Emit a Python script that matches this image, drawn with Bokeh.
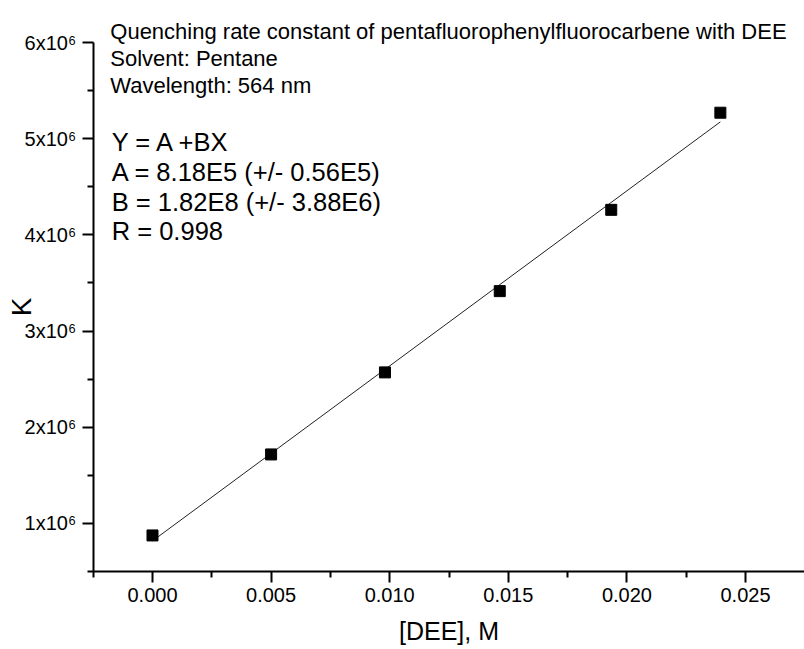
from bokeh.plotting import figure
from bokeh.models import Range1d, FixedTicker, Label
from bokeh.embed import file_html
from bokeh.resources import INLINE

# data
conc = [0.0, 0.0050, 0.0098, 0.01464, 0.01934, 0.02394]
k_vals = [0.875e6, 1.717e6, 2.57e6, 3.415e6, 4.26e6, 5.27e6]

# fit parameters shown on chart
fit_A = 8.18e5
fit_B = 1.82e8

x_ticks = [0.000, 0.005, 0.010, 0.015, 0.020, 0.025]
x_minor = [-0.0025, 0.0025, 0.0075, 0.0125, 0.0175, 0.0225, 0.0275]
y_ticks = [1e6, 2e6, 3e6, 4e6, 5e6, 6e6]
y_minor = [0.5e6, 1.5e6, 2.5e6, 3.5e6, 4.5e6, 5.5e6]
y_tick_labels = ["1x10\u2076", "2x10\u2076", "3x10\u2076", "4x10\u2076", "5x10\u2076", "6x10\u2076"]
x_tick_labels = ["0.000", "0.005", "0.010", "0.015", "0.020", "0.025"]

title_lines = ["Quenching rate constant of pentafluorophenylfluorocarbene with DEE",
               "Solvent: Pentane",
               "Wavelength: 564 nm"]
fit_lines = ["Y = A +BX",
             "A = 8.18E5 (+/- 0.56E5)",
             "B = 1.82E8 (+/- 3.88E6)",
             "R = 0.998"]

FONT = "Liberation Sans"

# extents of the drawn axes; the plot frame covers the whole canvas around them
X_AXIS = (-0.0025, 0.0275)
Y_AXIS = (0.5e6, 6e6)

p = figure(width=804, height=649, output_backend="svg", toolbar_location=None,
           x_range=Range1d(-0.006408, 0.027487), y_range=Range1d(-0.311e6, 6.4367e6),
           min_border_left=0, min_border_top=0, min_border_bottom=0, min_border_right=0)
p.outline_line_color = None
p.xgrid.visible = False
p.ygrid.visible = False
p.background_fill_color = "white"
p.border_fill_color = "white"

# fit line
fx = [min(conc), max(conc)]
fy = [fit_A + fit_B * v for v in fx]
p.line(fx, fy, line_color="#222222", line_width=1)

# points
p.scatter(conc, k_vals, marker="square", size=11, fill_color="black", line_color="black")

# axes
for ax in (p.xaxis[0], p.yaxis[0]):
    ax.axis_line_width = 2
    ax.axis_line_color = "black"
    ax.major_tick_line_width = 2
    ax.minor_tick_line_width = 2
    ax.major_tick_line_color = "black"
    ax.minor_tick_line_color = "black"
    ax.major_tick_in = 0
    ax.minor_tick_in = 0
    ax.major_tick_out = 11
    ax.minor_tick_out = 6
    ax.major_label_text_font = FONT
    ax.major_label_text_font_size = "20px"
    ax.major_label_text_color = "black"
    ax.axis_label_text_font = FONT
    ax.axis_label_text_font_style = "normal"
    ax.axis_label_text_color = "black"
    ax.major_label_standoff = 6

p.xaxis.bounds = X_AXIS
p.yaxis.bounds = Y_AXIS
p.xaxis.fixed_location = Y_AXIS[0]
p.yaxis.fixed_location = X_AXIS[0]
p.xaxis.ticker = FixedTicker(ticks=x_ticks, minor_ticks=x_minor)
p.yaxis.ticker = FixedTicker(ticks=y_ticks, minor_ticks=y_minor)
p.xaxis.major_label_overrides = {t: l for t, l in zip(x_ticks, x_tick_labels)}
p.yaxis.major_label_overrides = {t: l for t, l in zip(y_ticks, y_tick_labels)}
p.xaxis.axis_label = "[DEE], M"
p.yaxis.axis_label = "K"
p.xaxis.axis_label_text_font_size = "25px"
p.yaxis.axis_label_text_font_size = "28px"
p.xaxis.axis_label_standoff = 11
p.yaxis.axis_label_standoff = -15

# annotation text
title_y = [6.114e6, 5.834e6, 5.553e6]
for txt, yy in zip(title_lines, title_y):
    p.add_layout(Label(x=-0.00178, y=yy, text=txt, text_font=FONT, text_font_size="22px",
                       text_color="black", text_baseline="alphabetic"))
fit_y = [4.963e6, 4.651e6, 4.339e6, 4.045e6]
for txt, yy in zip(fit_lines, fit_y):
    p.add_layout(Label(x=-0.00172, y=yy, text=txt, text_font=FONT, text_font_size="25.5px",
                       text_color="black", text_baseline="alphabetic"))

open("out.html", "w").write(file_html(p, INLINE))
